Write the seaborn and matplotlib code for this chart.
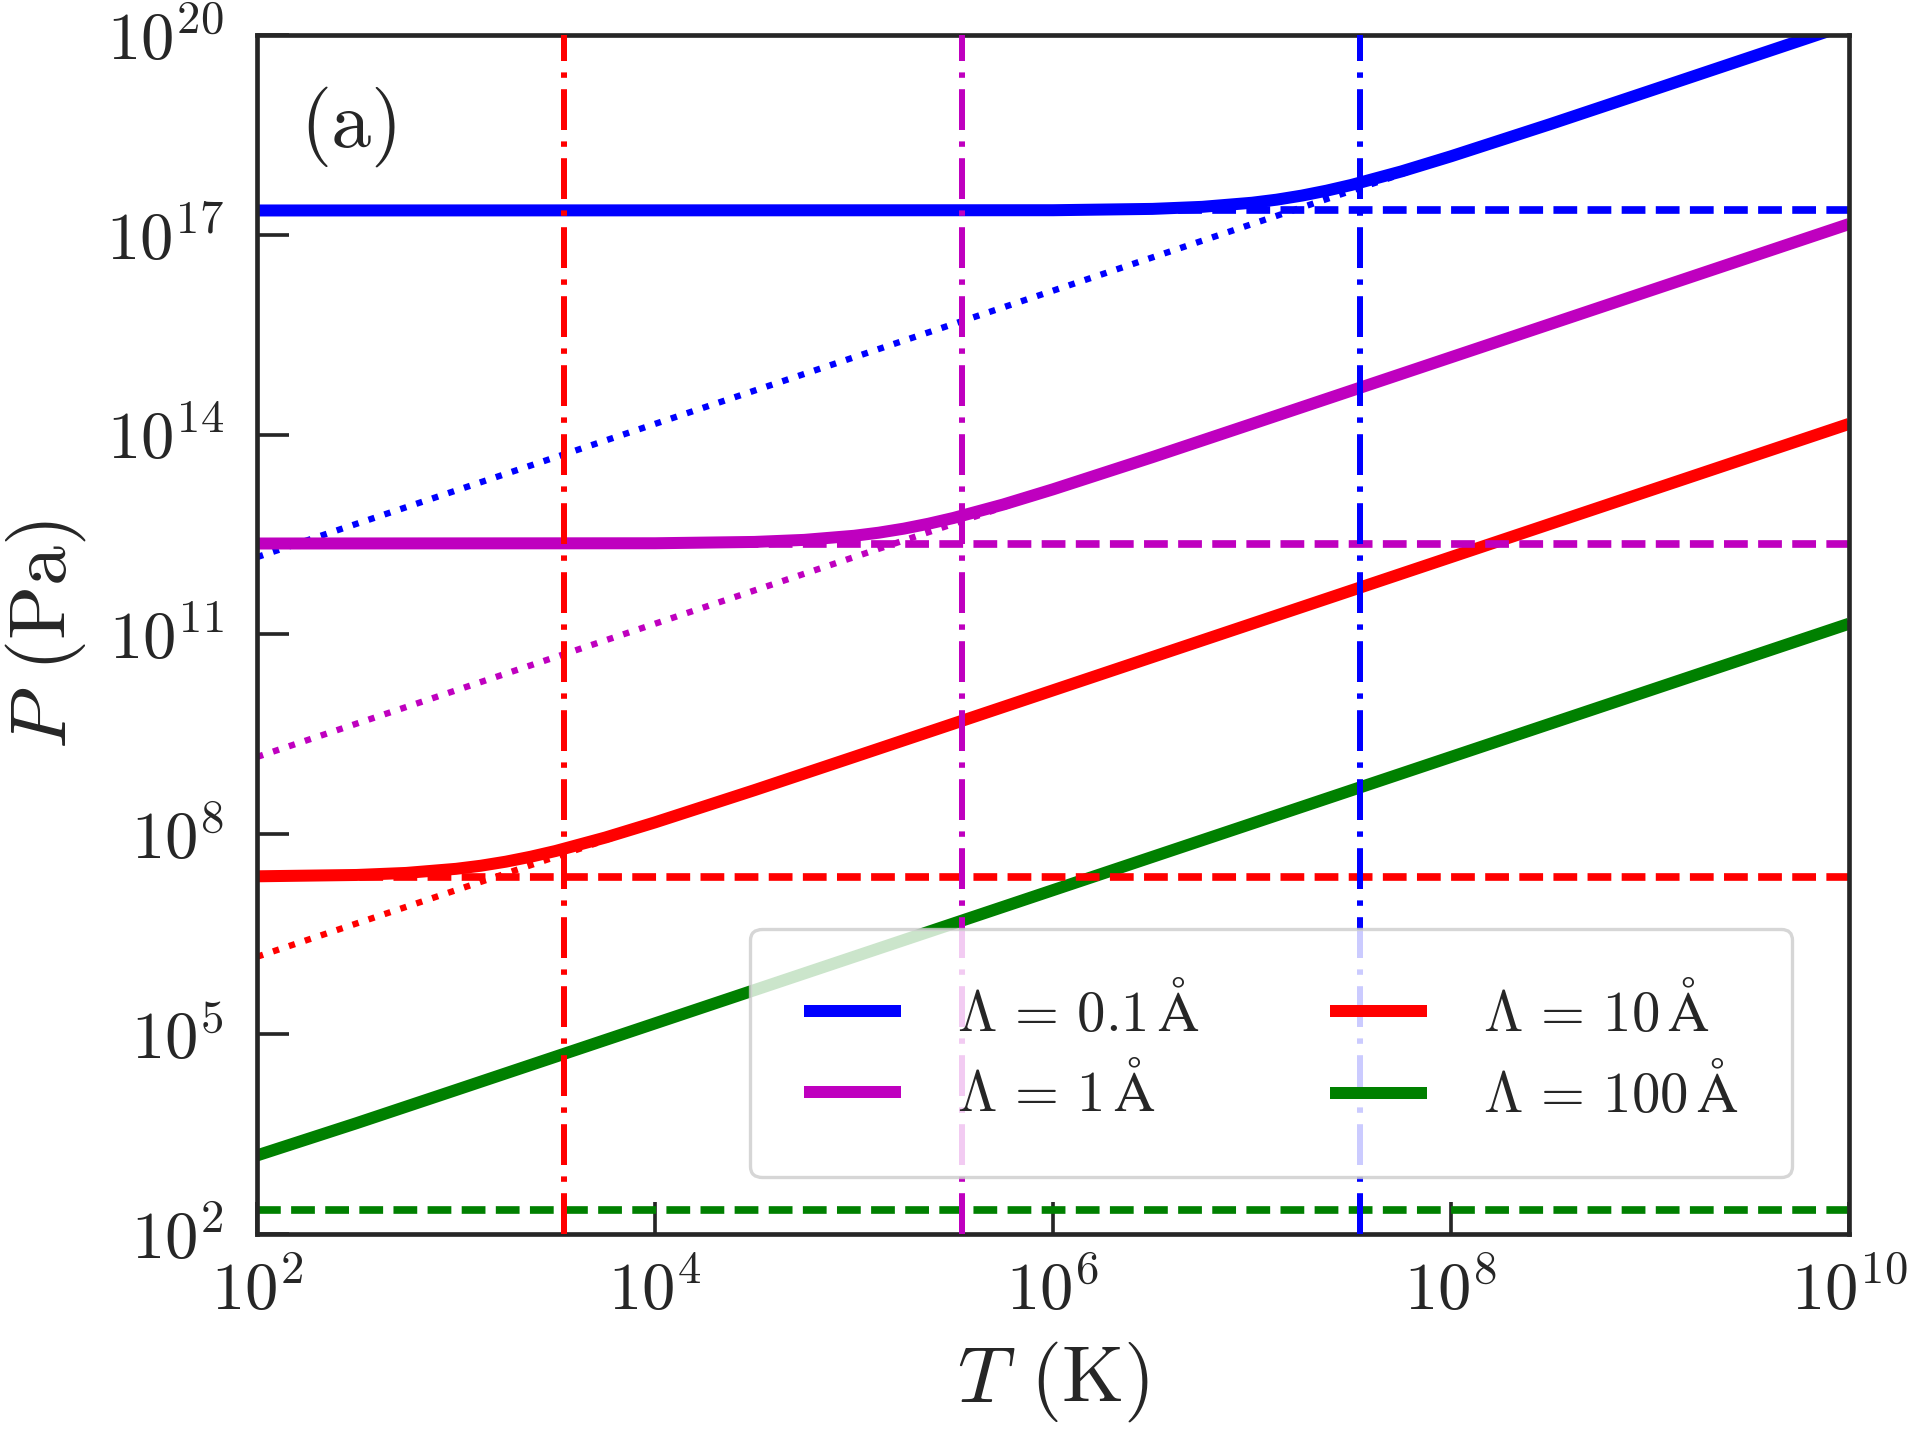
import numpy as np
import pandas as pd
import matplotlib
matplotlib.use("Agg")
import matplotlib.pyplot as plt
import seaborn as sns

# values (T in K, P in Pa)
T_blue = [1e2, 1e6, 3.16e6, 5.62e6, 1e7, 1.33e7, 1.78e7, 2.37e7, 3.16e7, 5.62e7, 1e8, 3.16e8, 1e9, 1e10]
P_blue = [2.32e17, 2.34e17, 2.45e17, 2.63e17, 3.03e17, 3.37e17, 3.88e17, 4.60e17, 5.61e17, 8.93e17, 1.51e18, 4.60e18, 1.45e19, 1.45e20]

T_mag = [1e2, 1e4, 3.16e4, 5.62e4, 1e5, 1.33e5, 1.78e5, 2.37e5, 3.16e5, 5.62e5, 1e6, 3.16e6, 1e7, 1e10]
P_mag = [2.32e12, 2.34e12, 2.45e12, 2.63e12, 3.03e12, 3.37e12, 3.88e12, 4.60e12, 5.61e12, 8.93e12, 1.51e13, 4.60e13, 1.45e14, 1.45e17]

T_red = [1e2, 3.16e2, 5.62e2, 1e3, 1.33e3, 1.78e3, 2.37e3, 3.16e3, 5.62e3, 1e4, 3.16e4, 1e5, 1e10]
P_red = [2.34e7, 2.45e7, 2.63e7, 3.03e7, 3.37e7, 3.88e7, 4.60e7, 5.61e7, 8.93e7, 1.51e8, 4.60e8, 1.45e9, 1.45e14]

T_green = [1e2, 3.16e2, 1e3, 1e10]
P_green = [1.51e3, 4.60e3, 1.45e4, 1.45e11]

# classical (linear) limit, dotted
T_lin = [1e2, 1e10]
P_lin_blue = [1.45e12, 1.45e20]
P_lin_mag = [1.45e9, 1.45e17]
P_lin_red = [1.45e6, 1.45e14]

# low-T constant limit, dashed
P_const = [2.32e17, 2.32e12, 2.32e7, 2.32e2]
# characteristic temperatures, dash-dot
T_char = [3.5e7, 3.5e5, 3.5e3]

labels = [r'$\Lambda\,=\,0.1\,\mathrm{\AA}$', r'$\Lambda\,=\,1\,\mathrm{\AA}$',
          r'$\Lambda\,=\,10\,\mathrm{\AA}$', r'$\Lambda\,=\,100\,\mathrm{\AA}$']
colors = ['b', 'm', 'r', 'g']

sns.set_style("ticks")
plt.rcParams['font.family'] = 'serif'
plt.rcParams['font.serif'] = ['cmr10']
plt.rcParams['mathtext.fontset'] = 'cm'
plt.rcParams['axes.formatter.use_mathtext'] = True
plt.rcParams['axes.unicode_minus'] = False

fig = plt.figure(figsize=(8, 6), dpi=240)
ax = fig.add_axes([0.1339, 0.1431, 0.8291, 0.8326])

# dotted linear limits
for T, P, c in [(T_lin, P_lin_blue, 'b'), (T_lin, P_lin_mag, 'm'), (T_lin, P_lin_red, 'r')]:
    sns.lineplot(x=T, y=P, ax=ax, color=c, lw=1.9, ls=':', zorder=1, sort=False)

# solid curves
handles = []
for T, P, c in [(T_blue, P_blue, 'b'), (T_mag, P_mag, 'm'), (T_red, P_red, 'r'), (T_green, P_green, 'g')]:
    sns.lineplot(x=T, y=P, ax=ax, color=c, lw=3.6, zorder=2, sort=False,
                 solid_capstyle='butt')
    handles.append(ax.lines[-1])

# constants
for p, c in zip(P_const, colors):
    ax.axhline(p, color=c, lw=2.3, ls=(0, (3.1, 1.35)), zorder=2.5)

# characteristic temperatures
for t, c in zip(T_char, colors):
    ax.axvline(t, color=c, lw=1.8, ls=(0, (6.8, 1.9, 0.9, 1.9)), zorder=3)

ax.set_xscale('log')
ax.set_yscale('log')
ax.set_xlim(1e2, 1e10)
ax.set_ylim(1e2, 1e20)
ax.set_xticks([1e2, 1e4, 1e6, 1e8, 1e10])
ax.set_yticks([1e2, 1e5, 1e8, 1e11, 1e14, 1e17, 1e20])
ax.minorticks_off()
ax.tick_params(axis='both', direction='in', length=9.5, width=1.1, labelsize=20)
ax.tick_params(axis='x', pad=8)
ax.tick_params(axis='y', pad=10)
for s in ax.spines.values():
    s.set_linewidth(1.4)
    s.set_visible(True)

ax.set_xlabel(r'$T$ (K)', fontsize=24)
ax.set_ylabel(r'$P$ (Pa)', fontsize=24)
ax.xaxis.set_label_coords(0.5, -0.088)
ax.yaxis.set_label_coords(-0.106, 0.5)
ax.text(0.027, 0.957, '(a)', transform=ax.transAxes, fontsize=24, va='top', ha='left')

ax.legend(handles, labels, loc='lower right', ncol=2, fontsize=17, frameon=True,
          fancybox=True, framealpha=0.8, edgecolor='0.8', borderpad=0.95,
          borderaxespad=1.0, handlelength=1.7, handletextpad=1.0,
          columnspacing=2.3, labelspacing=0.4)

fig.savefig('out.png', dpi=240)
